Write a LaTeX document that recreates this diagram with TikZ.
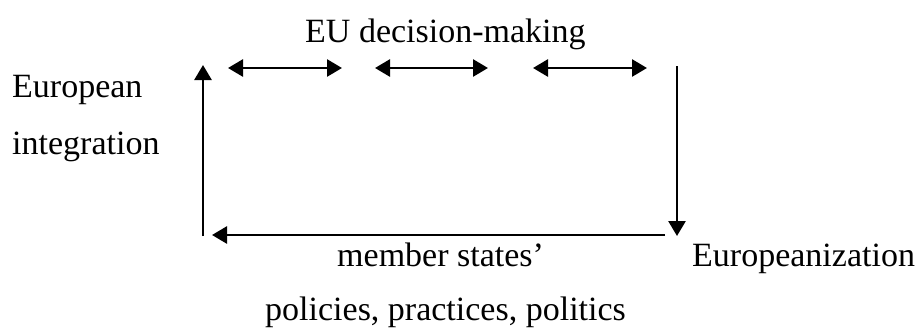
\documentclass[tikz,border=0pt]{standalone}
\usepackage{fontspec}
\setmainfont{Liberation Serif}
\usetikzlibrary{arrows.meta}
\tikzset{
  lbl/.style={anchor=base west, inner sep=0pt, font=\fontsize{34}{40}\selectfont},
  conn/.style={line width=2.7pt, -{Triangle[length=15pt,width=17pt]}},
  dconn/.style={line width=2.7pt, {Triangle[length=15pt,width=17pt]}-{Triangle[length=15pt,width=17pt]}}
}
\begin{document}
\begin{tikzpicture}[x=1pt,y=-1pt]
\useasboundingbox (0,0) rectangle (920,327);
% labels
\node[lbl] (eu) at (305,42) {EU decision-making};
\node[lbl] (ei1) at (12,97) {European};
\node[lbl] (ei2) at (12,154) {integration};
\node[lbl] (ms1) at (337,266) {member states’};
\node[lbl] (ms2) at (265,320) {policies, practices, politics};
\node[lbl] (ez) at (692,266) {Europeanization};
% connector end points
\coordinate (lb) at (203,236);
\coordinate (lt) at (203,65);
\coordinate (rt) at (677,66);
\coordinate (rb) at (677,236);
\coordinate (br) at (665,235);
\coordinate (bl) at (212,235);
\coordinate (a1l) at (228,68);
\coordinate (a1r) at (342,68);
\coordinate (a2l) at (375,68);
\coordinate (a2r) at (488,68);
\coordinate (a3l) at (533,68);
\coordinate (a3r) at (647,68);
% connectors
\draw[conn] (lb) -- (lt);
\draw[conn] (rt) -- (rb);
\draw[conn] (br) -- (bl);
\draw[dconn] (a1l) -- (a1r);
\draw[dconn] (a2l) -- (a2r);
\draw[dconn] (a3l) -- (a3r);
\end{tikzpicture}
\end{document}
